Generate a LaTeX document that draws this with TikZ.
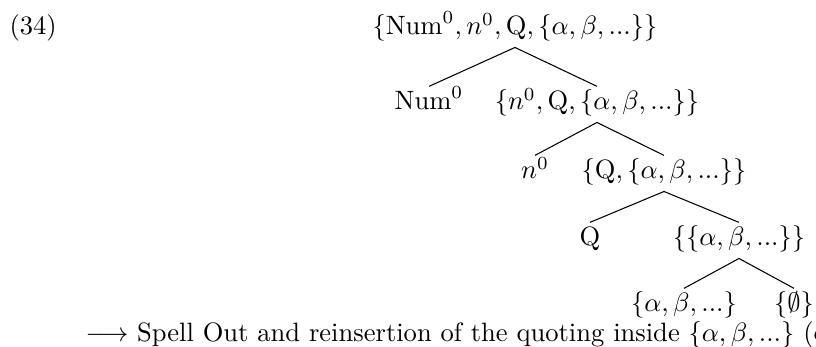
\documentclass[tikz,border=0pt]{standalone}
\begin{document}
\begin{tikzpicture}[x=0.3766pt,y=-0.3766pt,
  lab/.style={anchor=base,inner xsep=0pt,inner ysep=1.5pt,text height=7.2pt,text depth=3.0pt,font=\fontsize{10}{12}\selectfont},
  edge/.style={line width=0.4pt}]
\path[use as bounding box,clip] (0,0) rectangle (816,347);
\node[anchor=base west,inner sep=0pt] (num) at (9,35) {(34)};
\node[lab] (r) at (515,35) {$\{\mathrm{Num}^0, n^0, \mathrm{Q}, \{\alpha, \beta, ...\}\}$};
\node[lab] (a1) at (429,110) {$\mathrm{Num}^0$};
\node[lab] (b1) at (597,110) {$\{n^0, \mathrm{Q}, \{\alpha, \beta, ...\}\}$};
\node[lab] (a2) at (535,179) {$n^0$};
\node[lab] (b2) at (664,179) {$\{\mathrm{Q}, \{\alpha, \beta, ...\}\}$};
\node[lab] (a3) at (590,246) {$\mathrm{Q}$};
\node[lab] (b3) at (739,246) {$\{\{\alpha, \beta, ...\}\}$};
\node[lab] (a4) at (684,312) {$\{\alpha, \beta, ...\}$};
\node[lab] (b4) at (794,312) {$\{\emptyset\}$};
\node[anchor=base west,inner sep=0pt] (txt) at (85,342) {$\longrightarrow$ Spell Out and reinsertion of the quoting inside $\{\alpha, \beta, ...\}$ (c};
\draw[edge] (r.south) -- (a1.north);
\draw[edge] (r.south) -- (b1.north);
\draw[edge] (b1.south) -- (a2.north);
\draw[edge] (b1.south) -- (b2.north);
\draw[edge] (b2.south) -- (a3.north);
\draw[edge] (b2.south) -- (b3.north);
\draw[edge] (b3.south) -- (a4.north);
\draw[edge] (b3.south) -- (b4.north);
\end{tikzpicture}
\end{document}
